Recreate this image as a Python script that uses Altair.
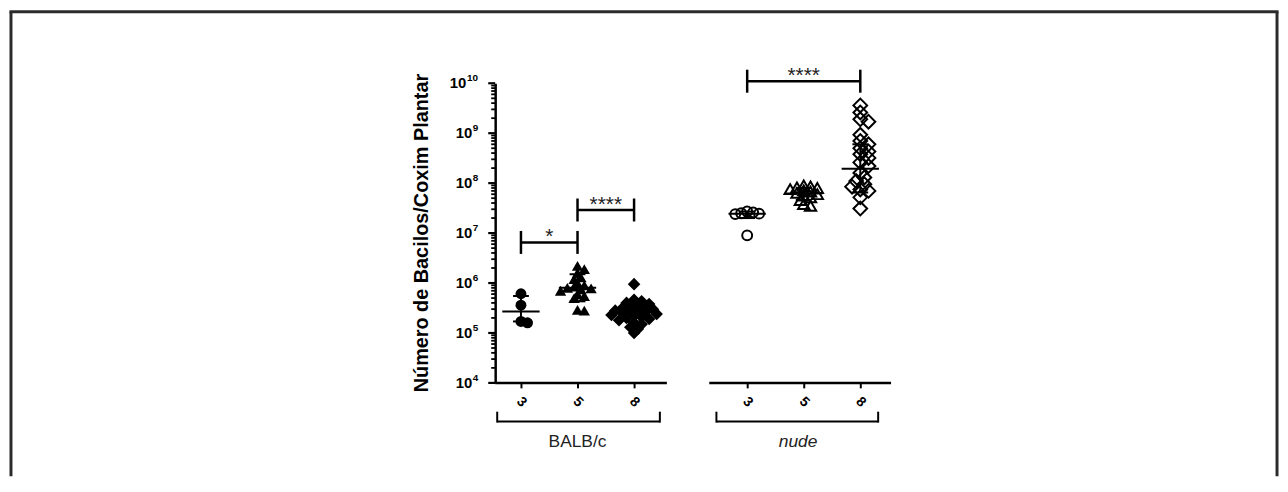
import altair as alt
import pandas as pd
import numpy as np

# ---------------- data ----------------
group_names = ["BALB/c", "BALB/c", "BALB/c", "nude", "nude", "nude"]
week_labels = ["3", "5", "8", "3", "5", "8"]
slots = [0, 1, 2, 4, 5, 6]
shapes = ["circle", "triangle-up", "diamond", "circle", "triangle-up", "diamond"]
marker_sizes = [121, 130, 160, 100, 130, 190]

balb_3 = [1.6e5, 1.7e5, 3.6e5, 6.1e5]
balb_5 = [2.2e6, 1.9e6, 1.6e6, 1.3e6, 1.2e6, 1.0e6, 9.0e5, 8.5e5, 8.0e5, 7.8e5,
          7.5e5, 7.0e5, 6.0e5, 5.5e5, 5.0e5, 2.9e5, 2.8e5]
balb_8 = [9.5e5, 4.6e5, 4.3e5, 4.0e5, 3.8e5, 3.5e5, 3.3e5, 3.2e5, 3.0e5, 2.9e5,
          2.8e5, 2.7e5, 2.6e5, 2.5e5, 2.4e5, 2.3e5, 2.2e5, 2.1e5, 2.0e5, 1.9e5,
          1.8e5, 1.6e5, 1.5e5, 1.3e5, 1.2e5, 1.0e5]
nude_3 = [2.7e7, 2.6e7, 2.5e7, 2.45e7, 2.4e7, 9.0e6]
nude_5 = [9.0e7, 8.6e7, 8.2e7, 8.0e7, 7.6e7, 7.2e7, 6.8e7, 6.4e7, 6.0e7, 5.6e7,
          5.2e7, 4.6e7, 3.8e7, 3.5e7]
nude_8 = [3.6e9, 2.6e9, 1.9e9, 1.7e9, 9.3e8, 7.0e8, 6.0e8, 5.0e8, 4.3e8, 3.8e8,
          3.2e8, 2.6e8, 2.2e8, 1.6e8, 1.3e8, 1.1e8, 9.5e7, 8.5e7, 7.5e7, 7.0e7,
          5.2e7, 3.1e7]
series = [balb_3, balb_5, balb_8, nude_3, nude_5, nude_8]

means = [2.7e5, 8.0e5, 2.6e5, 2.45e7, 6.2e7, 1.95e8]
sd_high = [5.5e5, 1.5e6, 4.0e5, 2.7e7, 8.0e7, 6.0e8]
sd_low = [1.7e5, 4.3e5, 1.7e5, 2.0e7, 4.6e7, 6.5e7]

# significance brackets: from slot, to slot, level, label
sig_from = [0, 1, 4]
sig_to = [1, 2, 6]
sig_level = [6.5e6, 2.9e7, 1.1e10]
sig_label = ["*", "****", "****"]

# group brackets under the axis
grp_label = ["BALB/c", "nude"]
grp_from = [-0.42, 3.456]
grp_to = [2.456, 6.316]
grp_center = [1.0, 4.9]

# axis segments (broken x axis)
axseg_from = [-0.456, 3.33]
axseg_to = [2.58, 6.544]

# y-axis decades
decades = [4, 5, 6, 7, 8, 9, 10]
y_title = "Número de Bacilos/Coxim Plantar"

# ---------------- layout helpers ----------------
W, H = 399, 302
XDOM = [-0.456, 6.544]
PX_PER_SLOT = W / (XDOM[1] - XDOM[0])
PX_PER_DEC = H / 6.0
FONT = "Liberation Sans"


def swarm(vals, diam):
    ys = np.log10(np.array(vals)) * PX_PER_DEC
    order = np.argsort(-np.array(vals), kind="stable")
    placed = []
    offs = np.zeros(len(vals))
    step = diam * 0.3
    thr = diam * 0.42
    for i in order:
        k = 0
        while True:
            cand = 0.0 if k == 0 else ((k + 1) // 2) * step * (1 if k % 2 else -1)
            if all((cand - ox) ** 2 + (ys[i] - oy) ** 2 >= thr ** 2 for ox, oy in placed):
                break
            k += 1
        placed.append((cand, ys[i]))
        offs[i] = cand
    return offs / PX_PER_SLOT


rows = []
for g, wk, s, sh, sz, vals in zip(group_names, week_labels, slots, shapes, marker_sizes, series):
    offs = swarm(vals, np.sqrt(sz))
    for v, o in zip(vals, offs):
        rows.append(dict(group=g, week=wk, x=s + o, value=v, shape=sh, size=sz))
pts = pd.DataFrame(rows)

stats = pd.DataFrame(dict(slot=slots, mean=means, hi=sd_high, lo=sd_low))
stats["m1"] = stats.slot - 0.33
stats["m2"] = stats.slot + 0.33
stats["c1"] = stats.slot - 0.14
stats["c2"] = stats.slot + 0.14

sig = pd.DataFrame(dict(a=sig_from, b=sig_to, level=sig_level, label=sig_label))
sig["top"] = sig.level * 10 ** 0.23
sig["bot"] = sig.level / 10 ** 0.23
sig["mid"] = (sig.a + sig.b) / 2

grp = pd.DataFrame(dict(label=grp_label, a=grp_from, b=grp_to, c=grp_center))
axseg = pd.DataFrame(dict(a=axseg_from, b=axseg_to, y=[1e4, 1e4]))

major = pd.DataFrame(dict(v=[10.0 ** e for e in decades],
                          base=["10"] * len(decades),
                          exp=[str(e) for e in decades]))
minor = pd.DataFrame(dict(v=[m * 10.0 ** e for e in decades[:-1] for m in range(2, 10)]))

# ---------------- scales / axes ----------------
yscale = alt.Scale(type="log", domain=[1e4, 1e10], nice=False)
yaxis = alt.Axis(
    ticks=False, labels=False, grid=False, title=None,
    domainColor="black", domainWidth=2.5,
)

xlab = "''"
for s, w in reversed(list(zip(slots, week_labels))):
    xlab = f"(datum.value == {s} ? '{w}' : {xlab})"

xscale = alt.Scale(domain=XDOM, nice=False, zero=False)
xaxis = alt.Axis(
    values=slots,
    labelExpr=xlab,
    domain=False,
    ticks=True,
    tickSize=5,
    tickWidth=2,
    tickColor="black",
    labelAngle=45,
    labelAlign="center",
    labelBaseline="middle",
    labelPadding=14,
    labelFont=FONT,
    labelFontSize=14,
    labelFontWeight="bold",
    labelColor="black",
    labelOverlap=False,
    labelFlush=False,
    grid=False,
    title=None,
)


def X(f):
    return alt.X(f, type="quantitative", scale=xscale, axis=xaxis)


def Y(f):
    return alt.Y(f, type="quantitative", scale=yscale, axis=yaxis)


# ---------------- layers ----------------
filled_pts = alt.Chart(pts[pts.group == "BALB/c"]).mark_point(
    filled=True, color="black", opacity=1
).encode(
    x=X("x"), y=Y("value"),
    shape=alt.Shape("shape:N", scale=None),
    size=alt.Size("size:Q", scale=None),
)

open_pts = alt.Chart(pts[pts.group == "nude"]).mark_point(
    filled=False, color="black", opacity=1, strokeWidth=2
).encode(
    x=X("x"), y=Y("value"),
    shape=alt.Shape("shape:N", scale=None),
    size=alt.Size("size:Q", scale=None),
)

base_stats = alt.Chart(stats)
mean_line = base_stats.mark_rule(color="black", strokeWidth=2).encode(
    x=X("m1"), x2="m2", y=Y("mean"))
err_line = base_stats.mark_rule(color="black", strokeWidth=2).encode(
    x=X("slot"), y=Y("lo"), y2="hi")
cap_hi = base_stats.mark_rule(color="black", strokeWidth=2).encode(
    x=X("c1"), x2="c2", y=Y("hi"))
cap_lo = base_stats.mark_rule(color="black", strokeWidth=2).encode(
    x=X("c1"), x2="c2", y=Y("lo"))

base_sig = alt.Chart(sig)
sig_h = base_sig.mark_rule(color="black", strokeWidth=2.5).encode(
    x=X("a"), x2="b", y=Y("level"))
sig_va = base_sig.mark_rule(color="black", strokeWidth=2.5).encode(
    x=X("a"), y=Y("bot"), y2="top")
sig_vb = base_sig.mark_rule(color="black", strokeWidth=2.5).encode(
    x=X("b"), y=Y("bot"), y2="top")
sig_t = base_sig.mark_text(
    font=FONT, fontSize=21, color="#222", baseline="alphabetic", dy=1
).encode(x=X("mid"), y=Y("level"), text="label:N")

axis_segs = alt.Chart(axseg).mark_rule(color="black", strokeWidth=2.5).encode(
    x=X("a"), x2="b", y=Y("y"))

# y-axis ticks and labels
maj_ticks = alt.Chart(major).mark_rule(color="black", strokeWidth=2.2).encode(
    x=alt.value(-7), x2=alt.value(0), y=Y("v"))
min_ticks = alt.Chart(minor).mark_rule(color="black", strokeWidth=1.8).encode(
    x=alt.value(-4), x2=alt.value(0), y=Y("v"))
lab_base_1 = alt.Chart(major[major.exp != "10"]).mark_text(
    font=FONT, fontSize=15, fontWeight="bold", color="black", align="right", baseline="middle"
).encode(x=alt.value(-23), y=Y("v"), text="base:N")
lab_exp_1 = alt.Chart(major[major.exp != "10"]).mark_text(
    font=FONT, fontSize=10, fontWeight="bold", color="black", align="left", baseline="middle", dy=-5
).encode(x=alt.value(-22.5), y=Y("v"), text="exp:N")
lab_base_2 = alt.Chart(major[major.exp == "10"]).mark_text(
    font=FONT, fontSize=15, fontWeight="bold", color="black", align="right", baseline="middle"
).encode(x=alt.value(-29), y=Y("v"), text="base:N")
lab_exp_2 = alt.Chart(major[major.exp == "10"]).mark_text(
    font=FONT, fontSize=10, fontWeight="bold", color="black", align="left", baseline="middle", dy=-5
).encode(x=alt.value(-28.5), y=Y("v"), text="exp:N")

title_df = pd.DataFrame({"t": [y_title]})
y_title_mark = alt.Chart(title_df).mark_text(
    font=FONT, fontSize=20, fontWeight="bold", color="black", angle=270,
    align="center", baseline="middle"
).encode(x=alt.value(-74), y=alt.value(H / 2), text="t:N")

base_grp = alt.Chart(grp)
grp_h = base_grp.mark_rule(color="black", strokeWidth=2).encode(
    x=X("a"), x2="b", y=alt.value(341))
grp_va = base_grp.mark_rule(color="black", strokeWidth=2).encode(
    x=X("a"), y=alt.value(331), y2=alt.value(342))
grp_vb = base_grp.mark_rule(color="black", strokeWidth=2).encode(
    x=X("b"), y=alt.value(331), y2=alt.value(342))
grp_t1 = alt.Chart(grp[grp.label == "BALB/c"]).mark_text(
    font=FONT, fontSize=17.5, color="#222", baseline="middle"
).encode(x=X("c"), y=alt.value(362), text="label:N")
grp_t2 = alt.Chart(grp[grp.label == "nude"]).mark_text(
    font=FONT, fontSize=17.5, fontStyle="italic", color="#222", baseline="middle"
).encode(x=X("c"), y=alt.value(362), text="label:N")

# decorative frame around the figure (left, top, right edges)
frame_df = pd.DataFrame({"k": [0]})
frame_col = "#2b2b2b"
fr_left = alt.Chart(frame_df).mark_rule(color=frame_col, strokeWidth=3).encode(
    x=alt.value(-488), y=alt.value(-72), y2=alt.value(396))
fr_right = alt.Chart(frame_df).mark_rule(color=frame_col, strokeWidth=3).encode(
    x=alt.value(788), y=alt.value(-72), y2=alt.value(396))
fr_top = alt.Chart(frame_df).mark_rule(color=frame_col, strokeWidth=3).encode(
    x=alt.value(-489.5), x2=alt.value(789.5), y=alt.value(-72))

chart = alt.layer(
    filled_pts, open_pts, mean_line, err_line, cap_hi, cap_lo,
    sig_h, sig_va, sig_vb, sig_t, axis_segs,
    maj_ticks, min_ticks, lab_base_1, lab_exp_1, lab_base_2, lab_exp_2, y_title_mark,
    grp_h, grp_va, grp_vb, grp_t1, grp_t2,
    fr_left, fr_right, fr_top,
).properties(
    width=W, height=H, padding=0, background="white"
).configure_view(stroke=None)

chart.save("out.html", embed_options={"renderer": "svg", "actions": False})
